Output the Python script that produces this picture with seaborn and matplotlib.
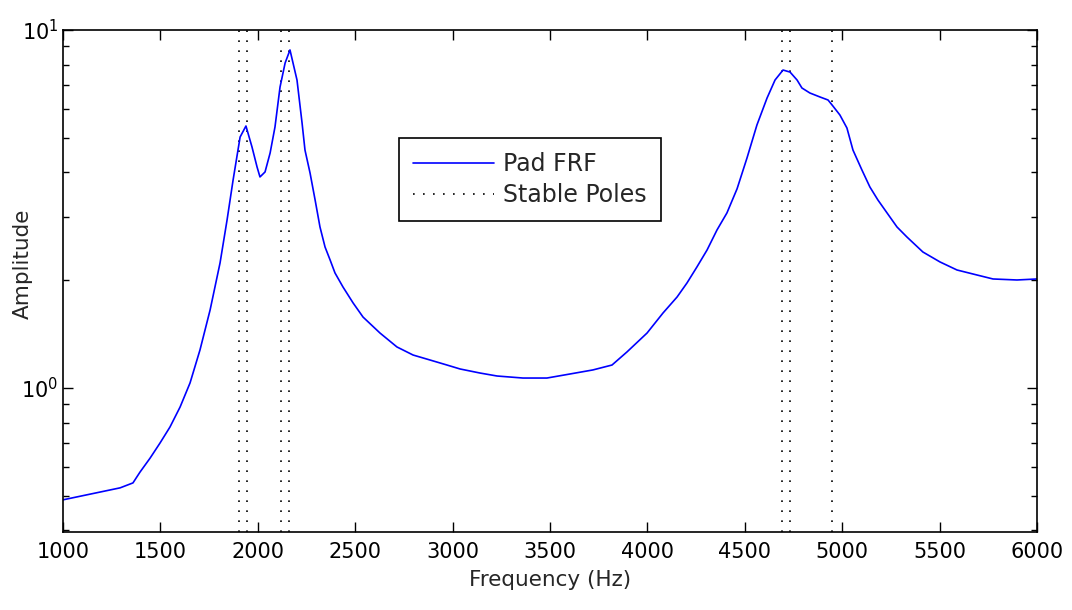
import numpy as np
import pandas as pd
import matplotlib
matplotlib.use("Agg")
import matplotlib.pyplot as plt
from matplotlib.ticker import LogLocator, NullFormatter, LogFormatterMathtext
import seaborn as sns

# Measured frequency response of the pad (Hz, amplitude)
freq_hz = [1000, 1293, 1359, 1395, 1447, 1498, 1549, 1601, 1652, 1703, 1755, 1806,
           1842, 1873, 1909, 1939, 1970, 1996, 2011, 2037, 2063, 2088, 2114, 2140,
           2165, 2201, 2227, 2242, 2268, 2294, 2319, 2345, 2371, 2396, 2437, 2489,
           2540, 2627, 2714, 2797, 2884, 2971, 3038, 3140, 3228, 3361, 3484, 3602,
           3720, 3818, 3895, 3998, 4080, 4152, 4203, 4254, 4306, 4357, 4408, 4460,
           4511, 4562, 4614, 4655, 4696, 4732, 4768, 4793, 4834, 4886, 4927, 4952,
           4988, 5024, 5055, 5101, 5142, 5183, 5230, 5281, 5332, 5414, 5502, 5589,
           5692, 5774, 5897, 6000]
amplitude = [0.487, 0.526, 0.543, 0.582, 0.637, 0.702, 0.778, 0.885, 1.033, 1.277,
             1.652, 2.235, 2.946, 3.811, 5.024, 5.393, 4.712, 4.143, 3.886, 4.013,
             4.533, 5.358, 6.932, 8.087, 8.796, 7.25, 5.5, 4.62, 3.987, 3.351, 2.817,
             2.476, 2.278, 2.096, 1.915, 1.728, 1.578, 1.424, 1.302, 1.236, 1.197,
             1.159, 1.130, 1.101, 1.080, 1.066, 1.066, 1.094, 1.123, 1.159, 1.261,
             1.424, 1.620, 1.795, 1.965, 2.178, 2.429, 2.763, 3.083, 3.600, 4.390,
             5.428, 6.457, 7.25, 7.73, 7.63, 7.25, 6.887, 6.668, 6.499, 6.375, 6.133,
             5.788, 5.325, 4.62, 4.064, 3.642, 3.351, 3.083, 2.817, 2.641, 2.398,
             2.249, 2.136, 2.068, 2.016, 2.003, 2.016]

# Identified stable poles (Hz)
stable_poles_hz = [1903, 1945, 2119, 2160, 4689, 4730, 4946]

x_ticks = [1000, 1500, 2000, 2500, 3000, 3500, 4000, 4500, 5000, 5500, 6000]

sns.set_style("ticks")
plt.rcParams["font.family"] = ["DejaVu Sans"]
plt.rcParams["font.size"] = 14
plt.rcParams["xtick.direction"] = "in"
plt.rcParams["ytick.direction"] = "in"
plt.rcParams["xtick.top"] = True
plt.rcParams["ytick.right"] = True

frf = pd.DataFrame({"Frequency": freq_hz, "Amplitude": amplitude})

fig = plt.figure(figsize=(10.72, 6.10), dpi=100)
ax = fig.add_axes([0.0588, 0.1279, 0.9086, 0.8229])

sns.lineplot(data=frf, x="Frequency", y="Amplitude", ax=ax, color="#0000ff",
             linewidth=1.2, label="Pad FRF", legend=False)

for i, f in enumerate(stable_poles_hz):
    ax.axvline(f, color="black", linewidth=1.2, linestyle=(0, (1, 5)),
               label="Stable Poles" if i == 0 else None, zorder=1)

ax.set_yscale("log")
ax.set_xlim(1000, 6000)
ax.set_ylim(0.396, 10)
ax.set_xticks(x_ticks)
ax.set_xticklabels([str(t) for t in x_ticks])
ax.yaxis.set_major_locator(LogLocator(base=10, numticks=5))
ax.yaxis.set_major_formatter(LogFormatterMathtext())
ax.yaxis.set_minor_locator(LogLocator(base=10, subs=np.arange(2, 10), numticks=20))
ax.yaxis.set_minor_formatter(NullFormatter())

ax.tick_params(which="major", length=7, width=1.0, colors="black", labelsize=15)
ax.tick_params(axis="x", which="major", pad=7)
ax.tick_params(which="minor", length=4, width=1.0, colors="black")
for s in ax.spines.values():
    s.set_visible(True)
    s.set_linewidth(1.2)
    s.set_color("black")

ax.set_xlabel("Frequency (Hz)", fontsize=15.5, labelpad=6)
ax.set_ylabel("Amplitude", fontsize=15.5)
ax.yaxis.set_label_coords(-0.031, 0.534)

leg = ax.legend(loc="upper left", bbox_to_anchor=(0.345, 0.785), fontsize=17,
                frameon=True, fancybox=False, framealpha=1, edgecolor="black",
                handlelength=3.4, handletextpad=0.4, borderpad=0.6,
                labelspacing=0.3, borderaxespad=0)
leg.get_frame().set_linewidth(1.2)

fig.savefig("out.png", dpi=100, facecolor="white")
